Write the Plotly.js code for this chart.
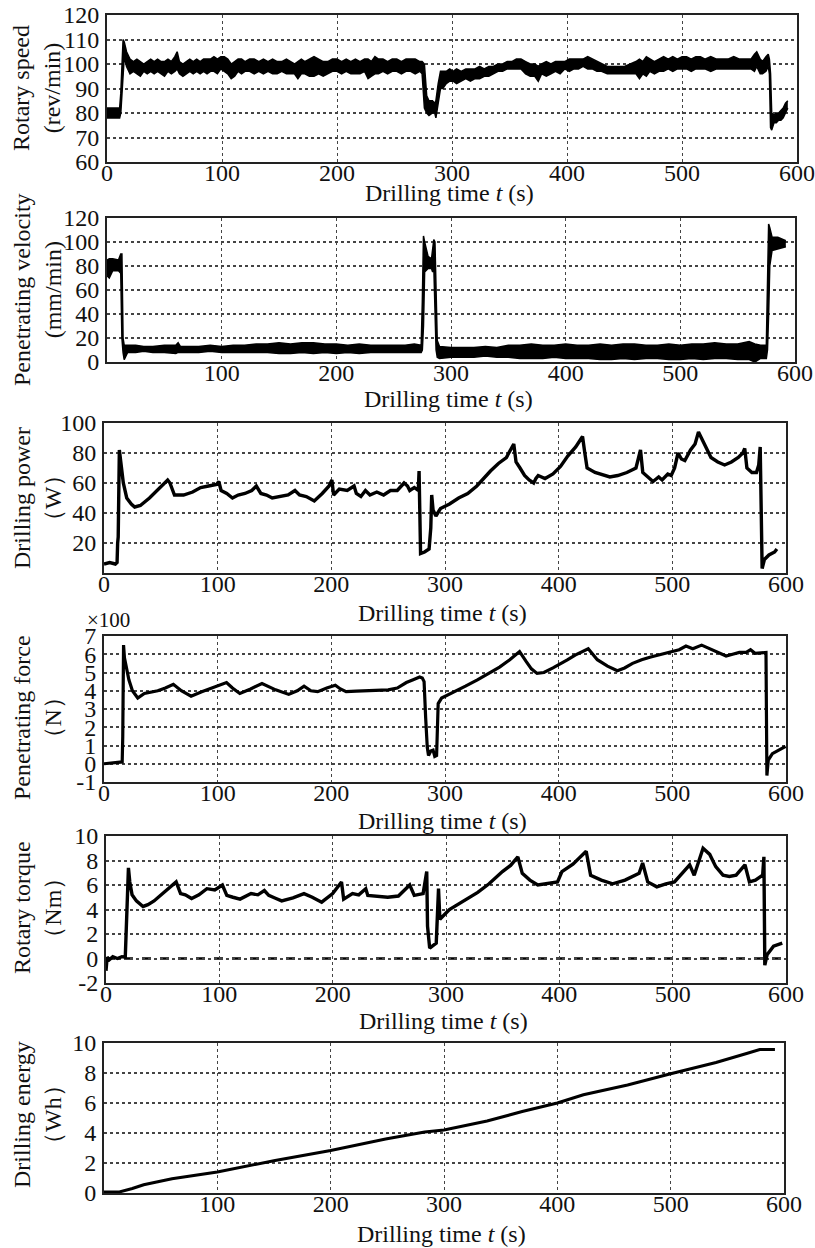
<!DOCTYPE html>
<html><head><meta charset="utf-8">
<script src="https://cdn.plot.ly/plotly-3.0.1.min.js"></script>
<style>html,body{margin:0;padding:0;background:#fff}#chart{width:815px;height:1248px}</style>
</head><body><div id="chart"></div>
<script>
// ---------- data ----------
const speedT  = [0,11,12,13,14,15,17,
  20,23,26,29,32,35,38,41,44,47,50,53,56,59,61,63,66,69,72,75,78,81,84,87,90,93,96,99,102,105,108,111,114,117,120,124,128,132,136,140,144,148,152,156,160,163,166,169,172,176,180,184,188,192,196,200,204,208,212,216,220,224,227,230,233,236,240,244,248,252,256,260,264,268,272,274,
  276,278,280,283,285,286,288,
  290,292,295,298,301,304,308,312,316,320,324,328,332,336,340,344,348,352,356,360,364,368,372,375,378,382,386,390,394,398,402,406,410,414,418,422,426,430,435,440,445,450,455,460,463,466,469,472,476,480,484,488,492,496,500,504,508,512,516,520,525,530,535,540,545,550,555,560,563,565,568,570,573,575,576,
  577,578,580,582,584,586,588,590,592];
const speedLo = [78,78,80,88,100,103,99,
  96,97,96,95,97,96,97,96,97,96,95,97,96,97,98,96,95,96,97,96,97,96,97,96,97,97,96,98,97,96,94,95,97,96,97,97,96,97,96,97,96,96,97,96,96,96,94,96,96,95,95,96,95,96,97,97,96,97,96,96,96,97,94,95,96,96,97,96,97,97,96,97,97,96,97,96,
  82,80,79,80,80,78,85,
  90,90,92,93,93,92,93,94,93,94,94,95,95,96,97,97,98,98,98,98,96,95,95,93,96,95,96,97,96,98,97,98,98,99,98,98,97,97,96,96,96,96,96,96,94,96,95,97,96,97,97,98,97,98,98,98,97,98,98,98,97,98,98,98,98,98,98,98,97,99,96,96,97,99,96,
  74,73,76,76,77,77,78,80,82];
const speedHi = [82,82,88,100,110,109,105,
  102,101,102,101,100,101,102,101,102,101,101,102,101,103,105,101,100,101,102,101,102,101,102,102,102,103,102,103,103,102,100,101,102,102,101,102,102,101,102,101,102,101,101,102,101,100,101,102,101,102,103,102,101,101,102,102,101,102,101,102,101,102,102,101,103,102,102,101,102,102,101,102,102,102,101,101,
  100,87,85,85,84,85,92,
  97,97,97,98,97,98,97,98,98,98,99,98,99,99,100,100,101,101,102,102,101,100,100,99,100,101,100,101,101,101,102,102,102,102,103,102,101,100,99,99,99,99,100,101,102,101,103,102,101,102,103,102,103,102,103,103,102,103,103,102,103,102,102,102,103,102,102,102,104,105,102,101,103,104,102,
  96,80,79,80,80,81,82,84,85];

const velT  = [0,2,5,10,12,13,14,15,18,25,32,40,50,60,62,64,72,80,90,100,110,120,130,140,150,160,170,180,190,200,210,220,230,240,250,260,268,274,275,276,277,280,283,284,285,286,287,288,290,300,310,320,330,340,350,360,370,380,390,400,410,420,430,440,450,460,470,480,490,500,510,520,530,540,550,560,565,570,575,576,577,578,580,585,590,592];
const velLo = [72,70,76,76,74,20,8,2,8,8,9,8,8,7,8,8,8,8,9,8,8,8,8,8,7,7,8,7,8,7,8,7,8,8,8,8,8,8,10,30,75,78,78,75,80,40,10,4,3,4,4,4,5,4,4,3,3,3,4,3,3,3,2,2,3,2,3,3,2,2,3,2,3,3,2,2,0,3,3,10,40,80,93,94,95,96];
const velHi = [85,86,86,85,90,90,20,14,14,14,13,13,14,14,16,13,13,13,14,13,14,14,15,15,16,15,16,16,15,15,14,15,14,14,14,14,15,14,50,105,100,88,86,92,102,100,40,18,13,12,12,12,13,12,14,14,15,14,14,15,14,14,15,14,15,15,14,14,15,14,15,15,16,15,15,17,15,14,14,60,115,112,104,104,102,101];

const powerT = [0,5,10,11.5,12,12.5,13.5,15,17,20,24,27,32,40,48,56,58,60,62,66,70,78,85,92,99,101,103,108,113,118,124,130,134,138,143,148,155,162,168,172,178,185,192,198,200.5,202,207,214,220,222,226,230,234,240,246,252,258,264,267,269,273,276.5,277.2,278.5,282,286,287.5,288.3,289.5,292,296,304,312,320,328,335,340,347,354,360.5,362.5,366,370,374,378,380,382,388,395,401.6,408,415,421,423,425,432,440,445,452,460,468,471,472,474,478,483,488,491,496,499,502,505,508,511,516,520,523,527,534,540,546,552,558,562,563.7,565.6,570,574,576,577.3,578,579,581,585,590,592];
const powerW = [6,7,6,7,20,24,82,70,60,50,46,44,45,50,56,62,60,56,52,52,52,54,57,58,59,61,55,53,50,52,53,55,58,53,52,50,51,52,55,52,51,48,53,58,62,52,56,55,58,53,51,55,52,54,52,55,55,60,58,55,57,55,68,13,14,16,30,52,42,38,43,46,50,53,58,64,68,73,77,86,74,70,65,62,60,63,65,63,66,71,78,84,91,80,70,67,65,64,65,67,70,78,82,67,64,61,64,62,66,65,70,80,76,75,82,86,94,88,77,74,72,74,77,80,83,70,67,67,72,84,40,3,9,12,14,16];

const forceT = [0,8,16,16.5,17.2,18,20,21.9,25,29.7,35.5,41,47.3,54,61,68,76.6,86,97,107.8,113,119.5,129,139,151,162.5,170,176,182,188,196,203.5,208,213,222,231,240,250,258,266,272,277.7,280,281.6,283,284.4,285.5,287.5,289.5,291,292.6,294,297,309,318,328.5,338,348,357,365.6,371.5,376,381,387,395,402.7,408,414.5,420,426,434,443,451.6,458,465,473,481,490,500.4,506,512,518,525.8,535.5,547.3,553,559,565,568.8,572.7,578,582.4,583.2,584.4,588,594,599.6];
const forceN = [0,0.05,0.1,1.5,6.5,5.8,5.1,4.6,4.0,3.6,3.85,3.9,4.0,4.15,4.35,4.0,3.7,3.95,4.2,4.45,4.15,3.85,4.1,4.4,4.05,3.8,4.0,4.25,4.0,3.95,4.15,4.3,4.1,3.95,3.98,4.0,4.0,4.05,4.15,4.45,4.6,4.75,4.7,4.5,2.5,0.9,0.45,0.7,0.75,0.4,0.45,3.3,3.6,3.95,4.25,4.6,4.95,5.3,5.7,6.15,5.6,5.2,4.95,5.0,5.25,5.5,5.7,5.95,6.1,6.3,5.7,5.35,5.1,5.25,5.5,5.7,5.85,6.0,6.15,6.25,6.45,6.3,6.5,6.25,5.9,6.0,6.1,6.1,6.25,6.05,6.1,6.1,-0.65,0.2,0.55,0.75,0.95]; // ×100 N

const torqueT  = [0,1,3,6,10,14,17,18.3,19.8,21,23,26.8,32.7,37,42.4,50,55,61.9,65.8,70,75.5,82,89,96,102.7,106.6,112,118.3,128,134,139.7,143.6,150,155,165,174.7,182,190.3,200,207.8,209.7,217.5,223,229.2,231,240,248.6,258,268,272,279.8,283,283.7,285.6,289,291.4,293.4,294.6,303,310,318.7,328,338,349.8,357,363.4,367.3,374,381,390,398.4,402.3,412,423.7,427.6,437,447,458,470.4,473.5,478,486,494,501.6,509.3,515,519,526.8,532.7,538,544.4,550,556,563.8,567.7,573,579.4,580.5,581.3,583.3,589,596.7];
const torqueNm = [-1,0.1,-0.1,0.15,0.0,0.15,0.1,3.5,7.4,6.25,5.2,4.7,4.25,4.4,4.7,5.3,5.7,6.25,5.3,5.2,4.9,5.2,5.7,5.6,6.0,5.15,5.0,4.85,5.3,5.2,5.55,5.15,4.9,4.7,4.95,5.3,5.0,4.6,5.3,6.25,4.85,5.3,5.2,5.7,5.15,5.1,5.0,5.1,6.0,5.15,5.3,7.1,2.65,0.85,1.1,1.25,5.7,3.2,4.0,4.4,4.85,5.4,6.1,7.1,7.6,8.3,6.95,6.4,6.0,6.1,6.25,7.1,7.7,8.75,6.8,6.4,6.1,6.4,6.95,7.8,6.25,5.85,6.1,6.25,7.1,7.65,6.8,9.0,8.5,7.5,6.8,6.7,6.8,7.65,6.25,6.4,6.8,8.3,-0.55,0.3,1.0,1.25];

const energyT  = [0,13.6,25,35,60,100,151,200,248.5,283,300,338,369,400,423,462,500,540,567,575,578.6,592];
const energyWh = [0.07,0.07,0.3,0.55,0.95,1.4,2.17,2.83,3.6,4.07,4.2,4.8,5.43,6.0,6.55,7.2,7.95,8.7,9.3,9.5,9.57,9.57];

const xTicksAll    = [0,100,200,300,400,500,600];
const xTicksNoZero = [100,200,300,400,500,600];
const forceTicks   = [-1,0,1,2,3,4,5,6,7];
const forceLabels  = ['-1','0','1','2','3','4','5','6','7'];
const torqueTicks  = [-2,0,2,4,6,8,10];
const torqueLabels = ['-2','0','2','4','6','8','10'];
const powerTicks   = [20,40,60,80,100];

const xTitle = 'Drilling time <i>t</i> (s)';
const yTitles = ['Rotary speed<br>(rev/min)','Penetrating velocity<br>(mm/min)','Drilling power<br>（W）','Penetrating force<br>（N）','Rotary torque<br>（Nm）','Drilling energy<br>（Wh）'];

// ---------- layout ----------
const W = 815, H = 1248;
const FONT = 'Liberation Serif';
const boxes = [
  {x:[107,797], y:[15,162]},
  {x:[107,795], y:[218,362]},
  {x:[104,786], y:[423,573]},
  {x:[104,786], y:[636,782]},
  {x:[106,786], y:[836,983]},
  {x:[104,784], y:[1043,1193]}
];
const yTitleCenters = [88, 290, 498, 718, 908, 1115];
const xTitleCenters = [193, 399, 613, 821, 1021, 1234];
const yRanges = [[60,120],[0,120],[0,100],[-1,7],[-2,10],[0,10]];

const layout = {
  width: W, height: H,
  margin: {l:0, r:0, t:0, b:0},
  paper_bgcolor: '#fff', plot_bgcolor: '#fff',
  showlegend: false,
  font: {family: FONT, size: 24, color: '#111'},
  annotations: [],
  shapes: []
};

boxes.forEach((b, i) => {
  const n = i + 1;
  const xk = 'xaxis' + (i === 0 ? '' : n);
  const yk = 'yaxis' + (i === 0 ? '' : n);
  const xa = {
    domain: [b.x[0]/W, b.x[1]/W],
    anchor: 'y' + (i === 0 ? '' : n),
    range: [0, 600],
    tickmode: 'array',
    tickvals: (i === 1 || i === 5) ? xTicksNoZero : xTicksAll,
    ticks: '', ticklabelstandoff: -12,
    showline: true, mirror: true, linecolor: '#222', linewidth: 2,
    showgrid: true, gridcolor: '#444', gridwidth: 1, griddash: 'dot',
    zeroline: false,
    tickfont: {family: FONT, size: 24, color: '#111'}
  };
  const ya = {
    domain: [1 - b.y[1]/H, 1 - b.y[0]/H],
    anchor: 'x' + (i === 0 ? '' : n),
    range: yRanges[i],
    ticks: '', ticklabelstandoff: 1,
    showline: true, mirror: true, linecolor: '#222', linewidth: 2,
    showgrid: true, gridcolor: '#444', gridwidth: 2, griddash: 'dot',
    zeroline: false,
    tickfont: {family: FONT, size: 24, color: '#111'}
  };
  if (i === 0) { ya.dtick = 10; }
  if (i === 1) { ya.dtick = 20; }
  if (i === 2) { ya.tickmode = 'array'; ya.tickvals = powerTicks; }
  if (i === 3) { ya.tickmode = 'array'; ya.tickvals = forceTicks; ya.ticktext = forceLabels; }
  if (i === 4) { ya.tickmode = 'array'; ya.tickvals = torqueTicks; ya.ticktext = torqueLabels; }
  if (i === 5) { ya.dtick = 2; }
  layout[xk] = xa;
  layout[yk] = ya;

  layout.annotations.push({
    xref: 'paper', yref: 'paper', x: 37/W, y: 1 - yTitleCenters[i]/H,
    xanchor: 'center', yanchor: 'middle',
    text: yTitles[i], textangle: -90, showarrow: false, align: 'center',
    font: {family: FONT, size: 24, color: '#111'}
  });
  layout.annotations.push({
    xref: 'paper', yref: 'paper', x: ((b.x[0] + b.x[1]) / 2 - 3)/W, y: 1 - xTitleCenters[i]/H,
    xanchor: 'center', yanchor: 'middle', showarrow: false,
    text: xTitle, font: {family: FONT, size: 24, color: '#111'}
  });
});

layout.annotations.push({
  xref: 'paper', yref: 'paper', x: 108/W, y: 1 - 620/H,
  xanchor: 'center', yanchor: 'middle', showarrow: false,
  text: '×100', font: {family: FONT, size: 21, color: '#111'}
});

// dashed zero reference line in the torque panel
layout.shapes.push({
  type: 'line', xref: 'x5 domain', yref: 'y5', x0: 0, x1: 1, y0: 0, y1: 0,
  line: {color: '#000', width: 2.5, dash: 'dash'}, layer: 'below'
});

// ---------- traces ----------
const blk = '#000';
function band(t, lo, hi, ax) {
  return [
    {x: t, y: lo, mode: 'lines', line: {color: blk, width: 1.5}, xaxis: 'x'+ax, yaxis: 'y'+ax, hoverinfo: 'skip'},
    {x: t, y: hi, mode: 'lines', line: {color: blk, width: 1.5}, fill: 'tonexty', fillcolor: blk, xaxis: 'x'+ax, yaxis: 'y'+ax, hoverinfo: 'skip'}
  ];
}
function line(t, v, ax, w) {
  return {x: t, y: v, mode: 'lines', line: {color: blk, width: w}, xaxis: 'x'+ax, yaxis: 'y'+ax};
}

const data = [].concat(
  band(speedT, speedLo, speedHi, ''),
  band(velT, velLo, velHi, '2'),
  [line(powerT, powerW, '3', 3.4)],
  [line(forceT, forceN, '4', 3.2)],
  [line(torqueT, torqueNm, '5', 3.4)],
  [line(energyT, energyWh, '6', 3)]
);

Plotly.newPlot('chart', data, layout, {staticPlot: true, displayModeBar: false});
</script></body></html>
